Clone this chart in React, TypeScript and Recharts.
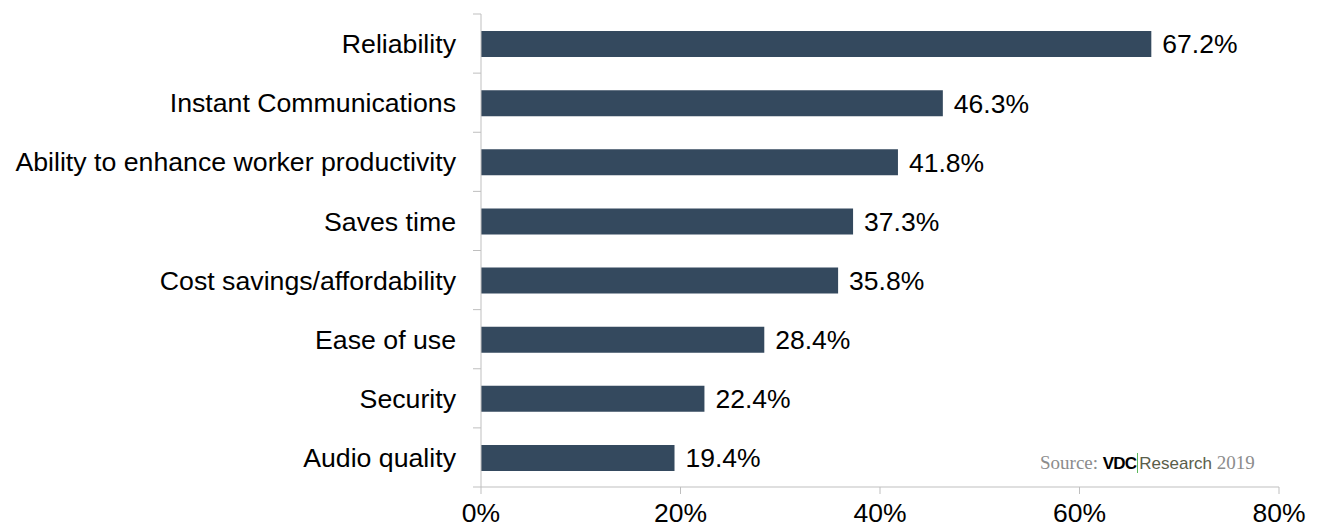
import { BarChart, Bar, XAxis, YAxis, LabelList } from 'recharts';

const categories = [
  'Reliability',
  'Instant Communications',
  'Ability to enhance worker productivity',
  'Saves time',
  'Cost savings/affordability',
  'Ease of use',
  'Security',
  'Audio quality',
];
const shares = [67.2, 46.3, 41.8, 37.3, 35.8, 28.4, 22.4, 19.4];
const xTicks = [0, 20, 40, 60, 80];

const data = categories.map((name, i) => ({ name, share: shares[i] }));

const AXIS = '#bfbfbf';
const FONT = 'Arial, "Liberation Sans", sans-serif';

function CategoryTick(props: any) {
  const { x, y, payload, index } = props;
  const half = payload.offset ?? 0;
  return (
    <g>
      <line x1={x + 17} x2={x + 25} y1={y - half} y2={y - half} stroke={AXIS} />
      {index === categories.length - 1 && (
        <line x1={x + 17} x2={x + 25} y1={y + half} y2={y + half} stroke={AXIS} />
      )}
      <text x={x} y={y} dy="0.36em" textAnchor="end" fontSize={26.7} fill="#000" fontFamily={FONT}>
        {payload.value}
      </text>
    </g>
  );
}

export default function App() {
  return (
    <div style={{ position: 'absolute', left: 0, top: 0, width: 1317, height: 531, background: '#fff' }}>
      <BarChart
        width={1317}
        height={531}
        data={data}
        layout="vertical"
        margin={{ top: 14, right: 38, bottom: 0, left: 0 }}
      >
        <XAxis
          type="number"
          domain={[0, 80]}
          ticks={xTicks}
          tickFormatter={(v) => `${v}%`}
          height={44}
          stroke={AXIS}
          tickSize={7}
          tickMargin={9}
          tick={{ fontSize: 26.5, fill: '#000', fontFamily: FONT }}
        />
        <YAxis
          type="category"
          dataKey="name"
          width={481}
          stroke={AXIS}
          tickLine={false}
          tickSize={0}
          tickMargin={25}
          tick={<CategoryTick />}
          interval={0}
        />
        <Bar dataKey="share" fill="#34495e" barSize={26} isAnimationActive={false}>
          <LabelList
            dataKey="share"
            position="right"
            offset={11}
            formatter={(v: any) => `${Number(v).toFixed(1)}%`}
            style={{ fontSize: 26.5, fill: '#000', fontFamily: FONT }}
          />
        </Bar>
      </BarChart>
      <div
        style={{
          position: 'absolute',
          left: 1040,
          top: 452,
          fontSize: 19,
          whiteSpace: 'nowrap',
          color: '#8c8c8c',
          fontFamily: '"Liberation Serif", "DejaVu Serif", serif',
          display: 'flex',
          alignItems: 'baseline',
        }}
      >
        <span>Source:&nbsp;</span>
        <span style={{ fontFamily: FONT, fontWeight: 'bold', color: '#000', fontSize: 17, letterSpacing: -0.8 }}>VDC</span>
        <span style={{ display: 'inline-block', width: 1, height: 20, background: '#5cb85c', margin: '0 1px', alignSelf: 'center' }} />
        <span style={{ fontFamily: FONT, color: '#5a5e4a', fontSize: 17 }}>Research</span>
        <span>&nbsp;2019</span>
      </div>
    </div>
  );
}
